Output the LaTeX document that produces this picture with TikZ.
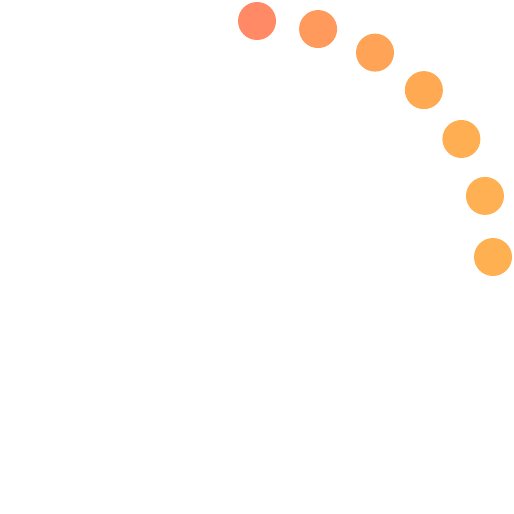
\documentclass[tikz,border=0pt]{standalone}
\usepackage{xcolor}
\usepackage{tikz}
\usetikzlibrary{calc}

\definecolor{dotA}{RGB}{255,138,101}
\definecolor{dotB}{RGB}{255,154,92}
\definecolor{dotC}{RGB}{255,164,86}
\definecolor{dotD}{RGB}{255,170,83}
\definecolor{dotE}{RGB}{255,174,82}
\definecolor{dotF}{RGB}{255,176,82}
\definecolor{dotG}{RGB}{255,177,82}

\begin{document}
\begin{tikzpicture}[x=0.75pt,y=0.75pt,yscale=-1,xscale=1,
  spinner dot/.style={circle,inner sep=0pt,minimum size=28.5pt}]
\useasboundingbox (0,0) rectangle (514,514);
% Center of the arc
\coordinate (hub) at (257,257);
% Dots along the quarter arc
\foreach \k/\c in {0/dotA,1/dotB,2/dotC,3/dotD,4/dotE,5/dotF,6/dotG}{
  \node [spinner dot,fill=\c] (dot\k) at ($(hub)+({-90+15*\k}:236)$) {};
}
\end{tikzpicture}
\end{document}
